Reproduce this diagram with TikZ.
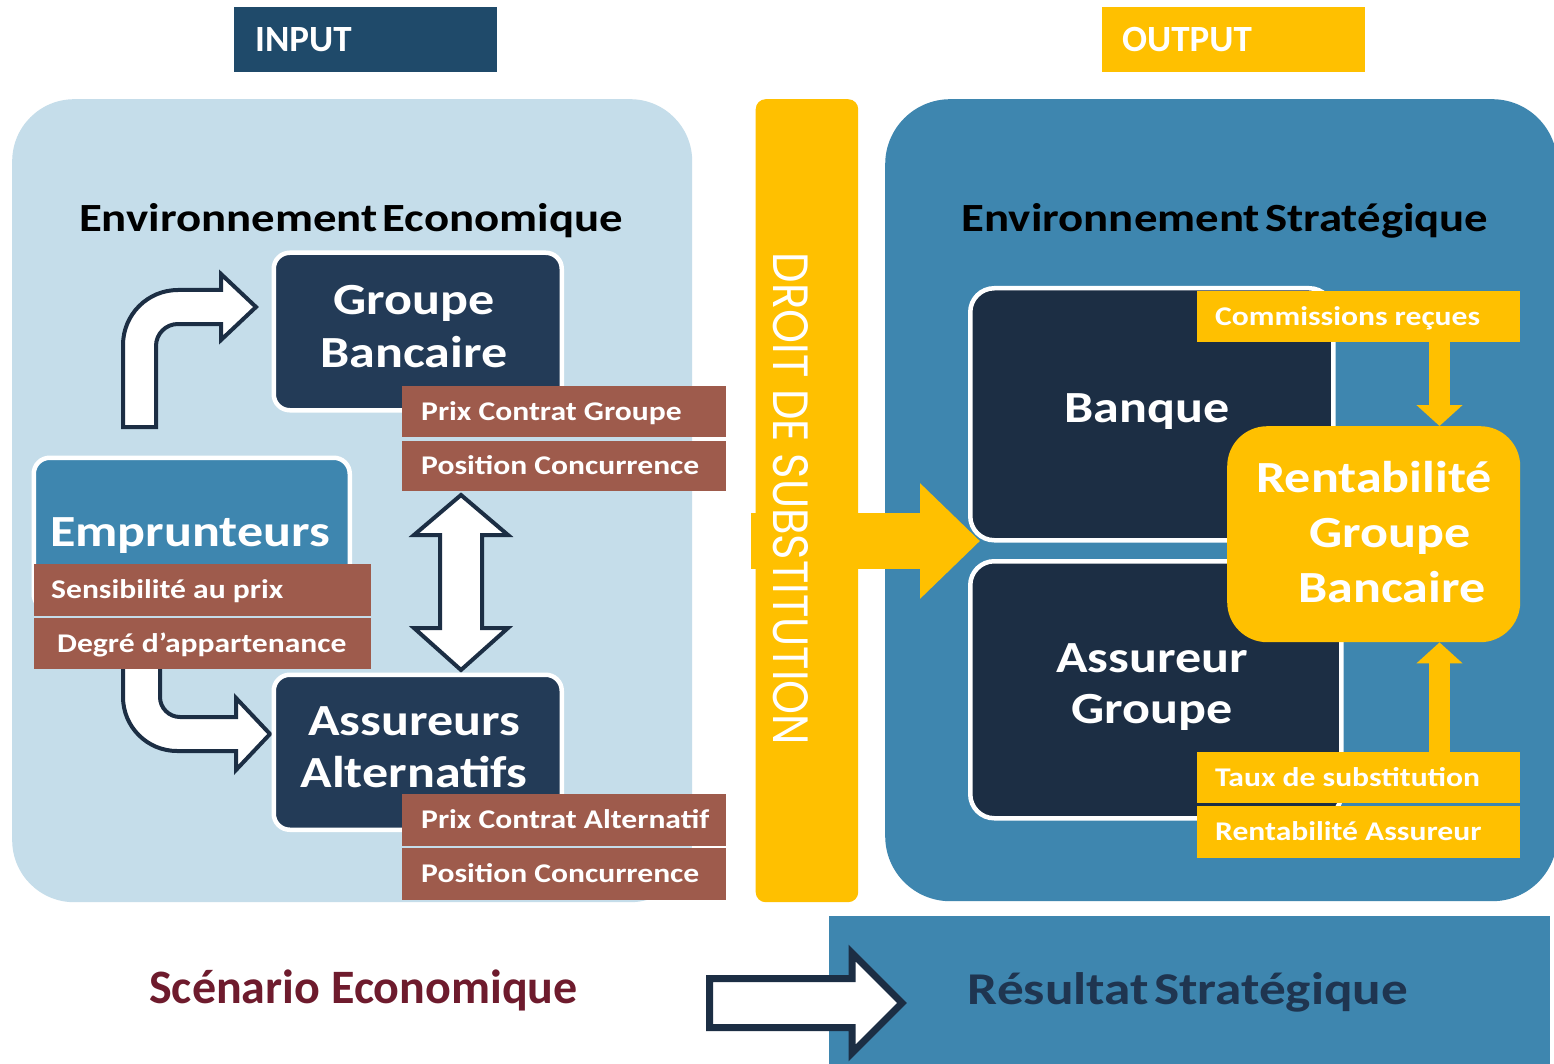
\documentclass[tikz,border=0pt]{standalone}
\usepackage{fontspec}
\usepackage{graphicx}
\usetikzlibrary{arrows.meta}
\setmainfont{Carlito}
\newfontfamily\wideface[FakeStretch=1.17]{Carlito}
\newfontfamily\plainface{Carlito}
\newfontfamily\geoface{Poppins}
\newcommand\setfs[1]{\fontsize{#1}{#1}\selectfont}

\definecolor{panelLight}{HTML}{C5DDEA}
\definecolor{panelMid}{HTML}{3E86AF}
\definecolor{navyL}{HTML}{233B57}
\definecolor{navyR}{HTML}{1C2E44}
\definecolor{arrowLine}{HTML}{1C2E44}
\definecolor{brick}{HTML}{9E5B4C}
\definecolor{amber}{HTML}{FFC000}
\definecolor{inkBlue}{HTML}{1F4A6A}
\definecolor{wine}{HTML}{6E1B2D}
\definecolor{deepText}{HTML}{1F3550}

\tikzset{
  area/.style={anchor=north west, inner sep=0pt, draw=none},
  boxL/.style={anchor=north west, inner sep=0pt, draw=white, line width=4.5pt, fill=navyL, rounded corners=16pt},
  boxR/.style={boxL, fill=navyR, rounded corners=24pt},
  tag/.style={anchor=north west, inner sep=0pt, draw=none},
  tagtext/.style={anchor=west, inner sep=0pt, text=white, font=\wideface\bfseries\setfs{27}, text height=17pt, text depth=0pt},
  big/.style={anchor=base, inner sep=0pt, text=white, font=\wideface\bfseries\setfs{44.5}},
  title/.style={anchor=base, inner sep=0pt, text=black, font=\wideface\bfseries\setfs{40}},
  hollow/.style={draw=arrowLine, fill=white, line width=4pt, line join=miter},
  feed/.style={draw=amber, line width=21pt, line cap=butt, -{Triangle[width=45pt,length=21pt]}},
}

\begin{document}
\begin{tikzpicture}[x=1pt, y=-1pt]
\useasboundingbox (0,0) rectangle (1554,1064);
\clip (0,0) rectangle (1554,1064);
\fill[white] (0,0) rectangle (1554,1064);

% headers
\node[area, fill=inkBlue, minimum width=263pt, minimum height=65pt] (inbox) at (234,7) {};
\node[anchor=base west, inner sep=0pt, text=white, font=\plainface\bfseries\setfs{37}] (inlbl) at (255,52) {INPUT};
\node[area, fill=amber, minimum width=263pt, minimum height=65pt] (outbox) at (1102,7) {};
\node[anchor=base west, inner sep=0pt, text=white, font=\plainface\bfseries\setfs{37}] (outlbl) at (1122,52) {OUTPUT};

% panels
\node[area, fill=panelLight, rounded corners=62pt, minimum width=680pt, minimum height=803pt] (envL) at (12,99) {};
\node[area, fill=panelMid, rounded corners=65pt, minimum width=672pt, minimum height=802pt] (envR) at (885,99) {};
\node[area, fill=amber, rounded corners=10pt, minimum width=102.5pt, minimum height=803pt] (bar) at (755.5,99) {};
\node[area, fill=panelMid, minimum width=721pt, minimum height=160pt] (result) at (829,916) {};

% titles
\node[title] (titleL) at (351,232) {Environnement\hspace{5pt}Economique};
\node[title] (titleR) at (1225,232) {Environnement\hspace{5pt}Stratégique};

% block arrows of the economic environment
\draw[hollow] (123,427) -- (123,345) .. controls (123,314.6) and (147.6,290) .. (178,290)
  -- (221,290) -- (221,274) -- (256,307) -- (221,340) -- (221,324) -- (178,324)
  .. controls (165.8,324) and (156,333.8) .. (156,346) -- (156,427) -- cycle;
\draw[hollow] (123,655) -- (123,697) .. controls (123,726.8) and (147.2,751) .. (177,751)
  -- (236,751) -- (236,770) -- (270,734) -- (236,698) -- (236,717) -- (180,717)
  .. controls (169,717) and (160,708) .. (160,697) -- (160,655) -- cycle;
\draw[hollow] (461,495) -- (508,535) -- (482,535) -- (482,628) -- (508,628) -- (461,670)
  -- (414,628) -- (440,628) -- (440,535) -- (414,535) -- cycle;

% actors
\node[boxL, minimum width=288pt, minimum height=157.5pt] (gb) at (271.5,250.5) {};
\node[big] (gbA) at (414,315) {Groupe};
\node[big] (gbB) at (414,367) {Bancaire};

\node[boxL, fill=panelMid, minimum width=316pt, minimum height=152.5pt] (emp) at (31.5,455.5) {};
\node[big] (empT) at (190,546) {Emprunteurs};

\node[boxL, minimum width=288pt, minimum height=155pt] (alt) at (271.5,672.5) {};
\node[big] (altA) at (414,735) {Assureurs};
\node[big] (altB) at (414,787) {Alternatifs};

% attribute tags
\node[tag, fill=brick, minimum width=324pt, minimum height=51pt] (pcg) at (402,386) {};
\node[tagtext] at ([xshift=19pt]pcg.west) {Prix Contrat Groupe};
\node[tag, fill=brick, minimum width=324pt, minimum height=50pt] (pcA) at (402,441) {};
\node[tagtext] at ([xshift=19pt]pcA.west) {Position Concurrence};

\node[tag, fill=brick, minimum width=337pt, minimum height=52pt] (sens) at (34,564) {};
\node[tagtext] at ([xshift=17pt]sens.west) {Sensibilité au prix};
\node[tag, fill=brick, minimum width=337pt, minimum height=51pt] (deg) at (34,618) {};
\node[tagtext] at ([xshift=23pt]deg.west) {Degré d’appartenance};

\node[tag, fill=brick, minimum width=324pt, minimum height=52pt] (pca) at (402,794) {};
\node[tagtext] at ([xshift=19pt]pca.west) {Prix Contrat Alternatif};
\node[tag, fill=brick, minimum width=324pt, minimum height=52pt] (pcB) at (402,848) {};
\node[tagtext] at ([xshift=19pt]pcB.west) {Position Concurrence};

% substitution flow
\coordinate (substFrom) at (751,541);
\coordinate (substTo) at (980,541);
\draw[draw=amber, line width=56pt, line cap=butt, -{Triangle[width=112pt,length=60pt]}] (substFrom) -- (substTo);
\node[rotate=-90, inner sep=0pt, text=white] (droit) at (790.5,499)
  {\resizebox{492pt}{35pt}{\geoface DROIT DE SUBSTITUTION}};

% strategic environment
\node[boxR, minimum width=363pt, minimum height=252pt] (banque) at (968,286) {};
\node[big] (banqueT) at (1147,422) {Banque};
\node[boxR, minimum width=371pt, minimum height=257pt] (assg) at (968,559) {};
\node[big] (assgA) at (1152,672) {Assureur};
\node[big] (assgB) at (1152,723) {Groupe};

\node[area, fill=amber, rounded corners=40pt, minimum width=293pt, minimum height=216pt] (rgb) at (1227,426) {};
\node[big] (rgbA) at (1374,492) {Rentabilité};
\node[big] (rgbB) at (1390,547) {Groupe};
\node[big] (rgbC) at (1392,602) {Bancaire};

\node[tag, fill=amber, minimum width=323pt, minimum height=51pt] (comm) at (1197,291) {};
\node[tagtext] at ([xshift=18pt]comm.west) {Commissions reçues};
\node[tag, fill=amber, minimum width=323pt, minimum height=51pt] (taux) at (1197,752) {};
\node[tagtext] at ([xshift=18pt]taux.west) {Taux de substitution};
\node[tag, fill=amber, minimum width=323pt, minimum height=52pt] (rass) at (1197,806) {};
\node[tagtext] at ([xshift=18pt]rass.west) {Rentabilité Assureur};

\coordinate (feedX) at (1439.5,0);
\draw[feed] ([yshift=3pt]feedX |- comm.south) -- (feedX |- rgb.north);
\draw[feed] (feedX |- taux.north) -- (feedX |- rgb.south);

% scenario to result
\node[anchor=base, inner sep=0pt, text=wine, font=\plainface\bfseries\setfs{48}] (scen) at (363.5,1003) {Scénario Economique};
\draw[hollow, line width=7pt] (709.5,978.5) -- (852,978.5) -- (852,953) -- (902,1003)
  -- (852,1053) -- (852,1027.5) -- (709.5,1027.5) -- cycle;
\node[anchor=base, inner sep=0pt, text=deepText, font=\wideface\bfseries\setfs{45.5}] (resT) at (1188,1004) {Résultat\hspace{5pt}Stratégique};
\end{tikzpicture}
\end{document}
